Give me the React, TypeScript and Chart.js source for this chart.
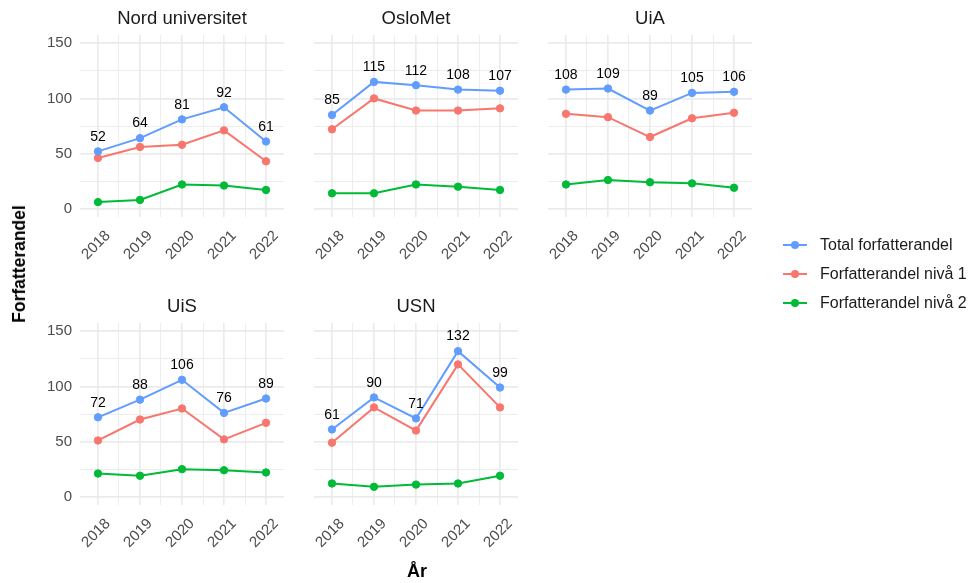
import React, { useEffect, useRef } from "react";
import { Chart, registerables } from "chart.js";

Chart.register(...registerables);

const years = [2018, 2019, 2020, 2021, 2022];
const institutions = ["Nord universitet", "OsloMet", "UiA", "UiS", "USN"];
const seriesNames = ["Total forfatterandel", "Forfatterandel nivå 1", "Forfatterandel nivå 2"];
const seriesColors = ["#619CFF", "#F8766D", "#00BA38"];

const totalNord = [52, 64, 81, 92, 61];
const totalOsloMet = [85, 115, 112, 108, 107];
const totalUiA = [108, 109, 89, 105, 106];
const totalUiS = [72, 88, 106, 76, 89];
const totalUSN = [61, 90, 71, 132, 99];

const niva1Nord = [46, 56, 58, 71, 43];
const niva1OsloMet = [72, 100, 89, 89, 91];
const niva1UiA = [86, 83, 65, 82, 87];
const niva1UiS = [51, 70, 80, 52, 67];
const niva1USN = [49, 81, 60, 120, 81];

const niva2Nord = [6, 8, 22, 21, 17];
const niva2OsloMet = [14, 14, 22, 20, 17];
const niva2UiA = [22, 26, 24, 23, 19];
const niva2UiS = [21, 19, 25, 24, 22];
const niva2USN = [12, 9, 11, 12, 19];

const totals = [totalNord, totalOsloMet, totalUiA, totalUiS, totalUSN];
const niva1 = [niva1Nord, niva1OsloMet, niva1UiA, niva1UiS, niva1USN];
const niva2 = [niva2Nord, niva2OsloMet, niva2UiA, niva2UiS, niva2USN];

const yTicks = [0, 50, 100, 150];

const FONT = "'Liberation Sans', Arial, Helvetica, sans-serif";

const PANEL_W = 204;
const PANEL_H = 182;
const AXIS_W = 60;
const TITLE_H = 32;
const XAXIS_H = 70;
const colLefts = [80, 314, 548];
const rowTops = [35, 323];

const labelPlugin = {
  id: "totalLabels",
  afterDatasetsDraw(chart: any) {
    const meta = chart.getDatasetMeta(0);
    const ctx = chart.ctx;
    ctx.save();
    ctx.font = `14px ${FONT}`;
    ctx.fillStyle = "#000000";
    ctx.textAlign = "center";
    ctx.textBaseline = "middle";
    meta.data.forEach((pt: any, i: number) => {
      const v = chart.data.datasets[0].data[i].y;
      ctx.fillText(String(v), pt.x, pt.y - 14.5);
    });
    ctx.restore();
  },
};

function Panel({ idx }: { idx: number }) {
  const ref = useRef<HTMLCanvasElement | null>(null);
  const col = idx % 3;
  const row = Math.floor(idx / 3);
  const left = colLefts[col] - AXIS_W;
  const top = rowTops[row] - TITLE_H;
  const width = PANEL_W + 2 * AXIS_W;
  const height = TITLE_H + PANEL_H + XAXIS_H;

  useEffect(() => {
    if (!ref.current) return;
    const seriesData = [totals[idx], niva1[idx], niva2[idx]];
    const datasets = seriesData.map((vals, s) => ({
      label: seriesNames[s],
      data: years.map((y, i) => ({ x: y, y: vals[i] })),
      borderColor: seriesColors[s],
      backgroundColor: seriesColors[s],
      pointBackgroundColor: seriesColors[s],
      pointBorderColor: seriesColors[s],
      borderWidth: 2,
      pointRadius: 3.7,
      pointBorderWidth: 1,
      tension: 0,
      yAxisID: "y",
    }));
    const showY = col === 0;
    const chart = new Chart(ref.current, {
      type: "line",
      data: { datasets: datasets as any },
      options: {
        animation: false,
        responsive: false,
        maintainAspectRatio: false,
        layout: { padding: 0 },
        plugins: {
          legend: { display: false },
          tooltip: { enabled: false },
          title: {
            display: true,
            text: institutions[idx],
            color: "#1A1A1A",
            font: { family: FONT, size: 18.5, weight: "normal", lineHeight: "22px" } as any,
            padding: { top: 5, bottom: 5 },
          },
        },
        scales: {
          x: {
            type: "linear",
            min: 2017.572,
            max: 2022.428,
            border: { display: false },
            grid: {
              color: "#EBEBEB",
              drawTicks: false,
              lineWidth: (c: any) => (c.tick && Number.isInteger(c.tick.value) ? 1.7 : 0.9),
            },
            ticks: {
              stepSize: 0.5,
              includeBounds: false,
              autoSkip: false,
              minRotation: 45,
              maxRotation: 45,
              padding: 10,
              labelOffset: 10,
              color: "#4D4D4D",
              font: { family: FONT, size: 15 },
              callback: (v: any) => (Number.isInteger(v) && years.includes(v) ? String(v) : ""),
            },
            afterFit: (s: any) => {
              s.height = XAXIS_H;
            },
          },
          y: {
            type: "linear",
            position: "left",
            min: -7.5,
            max: 157.5,
            border: { display: false },
            grid: {
              color: "#EBEBEB",
              drawTicks: false,
              lineWidth: (c: any) => (c.tick && c.tick.value % 50 === 0 ? 1.7 : 0.9),
            },
            ticks: {
              display: showY,
              stepSize: 25,
              includeBounds: false,
              padding: 8,
              color: "#4D4D4D",
              font: { family: FONT, size: 15 },
              callback: (v: any) => (yTicks.includes(v) ? String(v) : ""),
            },
            afterFit: (s: any) => {
              s.width = AXIS_W;
            },
          },
          yRight: {
            type: "linear",
            position: "right",
            min: 0,
            max: 1,
            border: { display: false },
            grid: { display: false, drawTicks: false },
            ticks: { display: false },
            afterFit: (s: any) => {
              s.width = AXIS_W;
            },
          },
        },
      },
      plugins: [labelPlugin],
    });
    return () => chart.destroy();
  }, [idx]);

  return (
    <canvas
      ref={ref}
      width={width}
      height={height}
      style={{ position: "absolute", left, top, width, height }}
    />
  );
}

export default function App() {
  return (
    <div
      style={{
        position: "fixed",
        left: 0,
        top: 0,
        width: 978,
        height: 583,
        background: "#FFFFFF",
        overflow: "hidden",
        fontFamily: FONT,
      }}
    >
      {institutions.map((_, i) => (
        <Panel key={i} idx={i} />
      ))}
      <div
        style={{
          position: "absolute",
          left: 18.5,
          top: 264,
          transform: "translate(-50%, -50%) rotate(-90deg)",
          fontWeight: "bold",
          fontSize: 17.5,
          color: "#000",
          whiteSpace: "nowrap",
          lineHeight: "20px",
        }}
      >
        Forfatterandel
      </div>
      <div
        style={{
          position: "absolute",
          left: 417,
          top: 571,
          transform: "translate(-50%, -50%)",
          fontWeight: "bold",
          fontSize: 18,
          color: "#000",
          whiteSpace: "nowrap",
          lineHeight: "20px",
        }}
      >
        År
      </div>
      {seriesNames.map((name, i) => {
        const cy = [245, 274, 303][i];
        return (
          <React.Fragment key={name}>
            <div
              style={{
                position: "absolute",
                left: 783,
                top: cy - 1,
                width: 24,
                height: 2,
                background: seriesColors[i],
              }}
            />
            <div
              style={{
                position: "absolute",
                left: 795 - 4.2,
                top: cy - 4.2,
                width: 8.4,
                height: 8.4,
                borderRadius: "50%",
                background: seriesColors[i],
              }}
            />
            <div
              style={{
                position: "absolute",
                left: 820,
                top: cy - 10,
                height: 20,
                lineHeight: "20px",
                fontSize: 16,
                color: "#1A1A1A",
                whiteSpace: "nowrap",
              }}
            >
              {name}
            </div>
          </React.Fragment>
        );
      })}
    </div>
  );
}
